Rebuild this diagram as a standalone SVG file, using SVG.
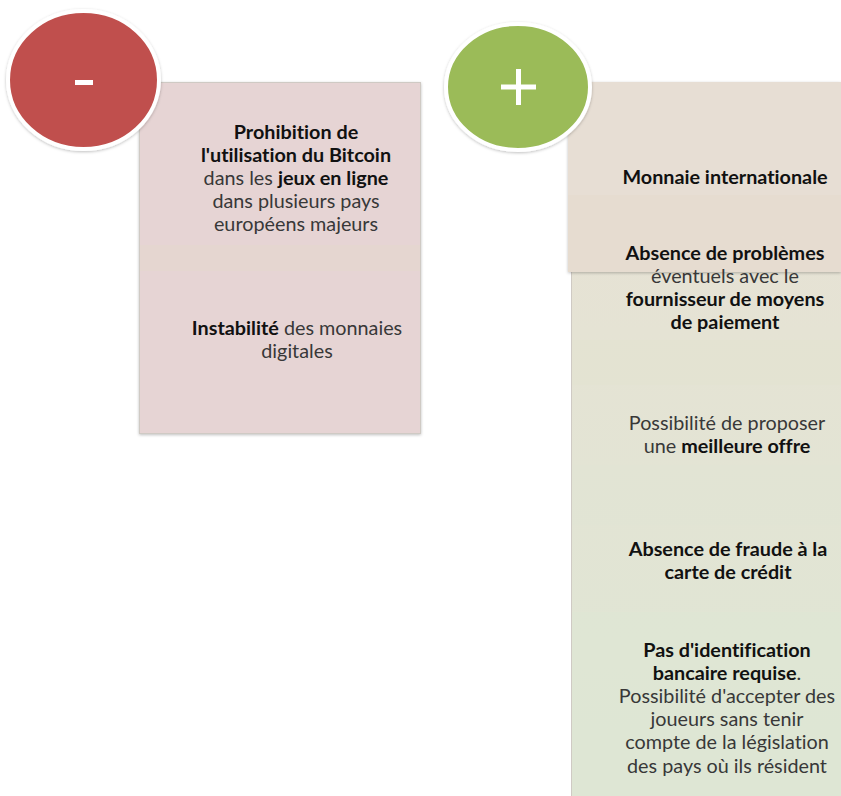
<svg xmlns="http://www.w3.org/2000/svg" width="841" height="796" viewBox="0 0 841 796">
<defs>
<linearGradient id="gR" x1="0" y1="0" x2="0" y2="1">
<stop offset="0" stop-color="#E8E0D5"/>
<stop offset="0.35" stop-color="#E5E3D4"/>
<stop offset="1" stop-color="#DEE6D4"/>
</linearGradient>
<filter id="sh" x="-20%" y="-20%" width="140%" height="140%">
<feDropShadow dx="0" dy="1" stdDeviation="1.5" flood-color="#000" flood-opacity="0.25"/>
</filter>
</defs>
<style>
text{font-family:Lato,"Liberation Sans",sans-serif;font-size:19.8px;text-anchor:middle;fill:#383838;font-variant-ligatures:none;font-feature-settings:"liga" 0}
.b{font-weight:bold;fill:#111}
.box{stroke:#cfcac4;stroke-width:1}
</style>
<rect width="841" height="796" fill="#fff"/>

<g id="minus-box">
<rect class="box" x="139.5" y="82.5" width="281" height="351" fill="#E6D4D4" filter="url(#sh)"/>
<rect x="140" y="245" width="280" height="26" fill="#E5D6D0"/>
<text x="296" y="139"><tspan class="b">Prohibition de</tspan></text>
<text x="296" y="162"><tspan class="b">l'utilisation du Bitcoin</tspan></text>
<text x="296" y="185">dans les <tspan class="b">jeux en ligne</tspan></text>
<text x="296" y="208">dans plusieurs pays</text>
<text x="296" y="231">européens majeurs</text>
<text x="297" y="335"><tspan class="b">Instabilité</tspan> des monnaies</text>
<text x="297" y="358">digitales</text>
</g>

<g id="minus-circle">
<ellipse cx="83.5" cy="80" rx="75.5" ry="69" fill="#C0504D" stroke="#fff" stroke-width="4" filter="url(#sh)"/>
<rect x="75" y="80" width="18" height="5" fill="#fff"/>
</g>

<g id="plus-box">
<rect class="box" x="571.5" y="82.5" width="270" height="714" fill="url(#gR)"/>
<rect x="572" y="340" width="269" height="45" fill="#E3E2D1" opacity="0.6"/>
<rect x="572" y="465" width="269" height="60" fill="#E1E5D3" opacity="0.6"/>
<rect x="572" y="612" width="269" height="184" fill="#DEE6D3" opacity="0.6"/>
<rect x="568" y="82" width="273" height="190" fill="#E7DED4" filter="url(#sh)"/>
<rect x="568" y="195" width="273" height="77" fill="#E5DCCE" opacity="0.7"/>
<text x="725" y="184" class="b">Monnaie internationale</text>
<text x="725" y="260" class="b">Absence de problèmes</text>
<text x="725" y="283">éventuels avec le</text>
<text x="725" y="306" class="b">fournisseur de moyens</text>
<text x="725" y="329" class="b">de paiement</text>
<text x="727" y="430">Possibilité de proposer</text>
<text x="727" y="453">une <tspan class="b">meilleure offre</tspan></text>
<text x="728" y="556" class="b">Absence de fraude à la</text>
<text x="728" y="579" class="b">carte de crédit</text>
<text x="727" y="657" class="b">Pas d'identification</text>
<text x="727" y="680"><tspan class="b">bancaire requise</tspan>.</text>
<text x="727" y="703">Possibilité d'accepter des</text>
<text x="727" y="726">joueurs sans tenir</text>
<text x="727" y="749">compte de la législation</text>
<text x="727" y="773">des pays où ils résident</text>
</g>

<g id="plus-circle">
<ellipse cx="518" cy="87" rx="72" ry="63" fill="#9BBB59" stroke="#fff" stroke-width="4" filter="url(#sh)"/>
<rect x="501" y="84.5" width="35" height="5" fill="#fff"/>
<rect x="516" y="69" width="5" height="36" fill="#fff"/>
</g>

<g id="connectors"></g>
</svg>
